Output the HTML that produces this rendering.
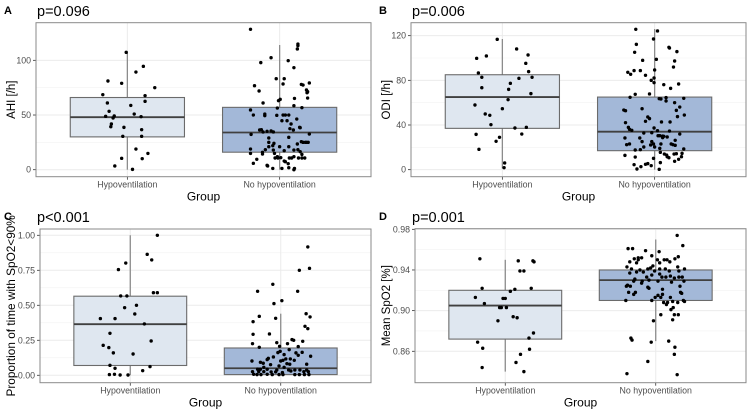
<!DOCTYPE html>
<html><head><meta charset="utf-8"><style>
body{margin:0;background:#fff}
svg{display:block;font-family:"Liberation Sans",Arial,sans-serif}
</style></head><body>
<svg id="fig" width="750" height="413" viewBox="0 0 750 413"></svg>
<script>
const categories=["Hypoventilation","No hypoventilation"];
const pLabels=["p=0.096","p=0.006","p<0.001","p=0.001"];
const panelLetters=["A","B","C","D"];
const yTitles=["AHI [/h]","ODI [/h]","Proportion of time with SpO2<90%","Mean SpO2 [%]"];
const aTicks=[0,50,100], aTickLabels=["0","50","100"];
const bTicks=[0,40,80,120], bTickLabels=["0","40","80","120"];
const cTicks=[0,0.25,0.5,0.75,1], cTickLabels=["0.00","0.25","0.50","0.75","1.00"];
const dTicks=[0.86,0.90,0.94,0.98], dTickLabels=["0.86","0.90","0.94","0.98"];
// box stats: [lowWhisker, Q1, median, Q3, highWhisker]
const aBoxHypo=[0,30,48,66,107], aBoxNo=[0,16,34,57,114];
const bBoxHypo=[1,37,65,85,117], bBoxNo=[0,17,34,65,126];
const cBoxHypo=[0,0.07,0.365,0.565,1.0], cBoxNo=[0,0.005,0.05,0.195,0.44];
const dBoxHypo=[0.840,0.872,0.905,0.920,0.950], dBoxNo=[0.870,0.910,0.930,0.940,0.970];
// points: values and jitter (fraction of half box width)
const aHypoVal=[107.3,81.1,79,94.5,89.3,75,68.6,61,67.7,62.5,58.8,53.4,48.8,49.1,47.3,50.9,48.5,41.8,39.3,38.7,30.5,36.6,30.5,18.9,14.9,10.4,10.1,3.4,0.3];
const aHypoJit=[-.02,-.34,-.10,.28,.15,.48,-.43,-.35,.31,.31,.06,-.32,-.38,-.23,-.25,.12,.24,-.28,-.29,-.06,-.08,.25,.25,.15,.36,-.10,.26,-.22,.09];
const aNoVal=[128.4,97.9,102.4,99.7,114.9,113.4,110.4,93.3,83.2,83.2,76.8,72,78.4,78,77.4,79.3,72.9,71.3,70.4,65.5,64.3,63.1,65.2,58.5,61,56.4,54.6,50,49.4,50.9,49.7,50,50,50,56.7,44.8,44.8,46.3,41.8,38.7,38.4,36.6,35.1,35.4,32.3,36.3,34.5,34.5,37.5,36.3,32.6,29,29.6,25,24.1,22,25.6,25,25,25,25,23.5,21,21,21,18.3,18.9,18,17.4,18,18.3,14.9,15.9,14.3,16.5,14,14.9,11.9,10.7,10.7,11,10.7,10.7,10.7,10.7,10.7,11.9,9.5,7.9,7.3,5.5,5.8,4,3.4,1.2,1.2,0,1.2,1.8];
const aNoJit=[-.51,-.33,-.15,.15,.32,.32,.31,.25,-.06,.08,-.44,-.36,.06,.38,.41,.52,.47,.49,.48,.49,.01,-.02,.26,.25,-.29,-.04,-.51,-.46,-.26,-.26,-.05,.06,.10,.16,.39,.13,.04,.30,.20,.35,.36,-.32,-.22,-.15,-.50,-.35,-.29,-.11,.18,.24,.52,-.19,.16,-.19,-.10,-.12,.38,.41,.45,.47,.50,.31,0,-.19,.16,-.25,-.51,-.11,.08,.25,.32,-.51,-.30,-.30,.36,.39,-.09,-.04,-.03,-.08,.02,.17,.21,.33,.39,.44,.25,-.40,.08,.10,.15,-.46,-.22,-.21,.04,.26,.25,-.12,.16];
const bHypoVal=[116.7,99.7,101.8,108.1,102.7,95.2,86.6,82.7,87.8,82.7,81.8,77.3,73.4,71.9,68.1,62.7,57.9,54.6,49.9,48.7,40.3,37.3,37.9,31.6,31.9,29,25.4,18.2,6,1.8];
const bHypoJit=[-.09,-.45,-.28,.25,.45,.41,-.42,-.36,.46,.52,.29,.14,-.36,.11,.50,.10,-.48,0,-.30,-.22,-.20,.22,.42,-.46,.34,-.05,-.11,-.41,.04,.03];
const bNoVal=[125.7,124.2,112.2,117,105.1,109.6,108.9,105.7,98.8,97.9,97.3,91.9,89.3,88.7,88.7,87.2,85.4,84.5,80,82.1,77.9,76.7,76.1,67.8,67.5,72.8,64.8,63.6,63.3,64.5,61.5,63.9,60,56.1,53.1,48.9,47.5,53.4,52.8,54.6,47.2,45.7,43.3,42.7,42.7,42.1,37.9,36.1,35.2,37.3,33.1,34.9,34.6,31.9,32.8,28.4,30.4,30.4,30.1,29.9,29.3,28.4,25.1,28.7,25.1,23,22.1,23,26.3,23,22.4,21.8,22.4,23,20.3,20.3,19.1,18.5,17.9,17.6,15.5,14,13.1,11.6,10.7,14,14.3,14.6,11.6,9.3,7.5,12.8,11.3,6.3,5.4,4.8,4.5,2.7,0.6,3.6,0.3,10.1];
const bNoJit=[-.33,.05,-.32,-.02,-.35,.25,.26,.39,.03,-.21,.35,.33,0,-.36,-.25,-.47,-.42,-.16,-.06,-.01,-.01,.42,.16,-.09,-.34,.28,-.43,.08,.11,.20,.20,.51,.35,.44,.38,.52,.40,-.54,-.51,-.22,-.12,-.09,-.16,.12,.27,-.51,-.46,-.44,-.40,-.01,-.05,.05,.26,.44,-.19,-.26,.06,.09,.14,.16,.22,-.52,-.22,.14,-.05,-.02,-.07,.11,.36,.29,.32,.36,-.49,-.44,-.19,0,.09,.51,-.25,-.34,.10,.17,.21,.22,.25,.34,.38,.48,.47,.42,.35,-.52,-.34,.10,-.12,-.16,-.36,-.24,-.31,-.06,.08,-.02];
const cHypoVal=[1,.864,.824,.802,.755,.567,.567,.59,.59,.5,.483,.438,.405,.405,.367,.3,.245,.214,.198,.16,.152,.071,.05,.062,.033,.005,.007,.002,.002];
const cHypoJit=[.48,.30,.38,-.08,-.21,-.17,-.06,.41,.48,.11,-.10,.08,-.53,-.27,.25,-.36,.37,-.48,-.38,-.30,.05,-.36,-.27,.35,.22,-.37,-.28,-.18,-.04];
const cNoVal=[.917,.764,.75,.65,.6,.6,.533,.512,.44,.417,.421,.407,.383,.35,.333,.295,.293,.255,.25,.243,.233,.226,.226,.2,.183,.205,.207,.171,.162,.16,.164,.136,.143,.131,.148,.121,.112,.117,.107,.102,.107,.117,.102,.093,.086,.083,.079,.079,.076,.067,.057,.057,.043,.043,.043,.038,.038,.038,.038,.038,.026,.026,.026,.024,.024,.019,.031,.026,.026,.007,.005,.005,.007,.005,.005,.005,.005,.005,.005,.005];
const cNoJit=[.48,.51,.33,-.14,-.41,.30,.02,-.12,.45,.52,-.38,-.09,-.49,.43,.48,-.20,-.49,.20,.23,.39,-.07,.12,-.50,-.38,.15,.31,-.02,-.01,-.05,.27,.38,.53,.31,-.13,.06,-.22,-.24,.17,.24,0,.04,.09,-.51,-.36,-.31,.11,.16,.46,-.18,-.03,-.30,.06,-.41,-.36,-.24,-.07,.14,.25,.34,.46,-.50,-.39,-.30,-.17,-.09,.03,.18,.41,.49,-.48,-.42,-.35,-.24,-.15,-.03,.04,.25,.33,.42,.50];
const dHypoVal=[.951,.949,.949,.948,.939,.939,.922,.921,.922,.919,.913,.912,.912,.907,.903,.903,.903,.894,.893,.890,.878,.873,.869,.863,.862,.857,.849,.844,.840];
const dHypoJit=[-.45,.23,.49,.51,.26,.33,-.41,.17,.46,.09,-.53,-.04,0,-.37,-.10,-.07,.02,.14,.21,-.13,.50,.42,-.49,-.40,.43,.27,.19,-.41,.33];
const dNoVal=[.974,.964,.961,.961,.959,.958,.954,.952,.952,.951,.953,.951,.95,.95,.95,.95,.947,.947,.948,.948,.943,.944,.942,.943,.941,.941,.939,.941,.941,.939,.941,.94,.938,.938,.939,.937,.936,.935,.933,.933,.933,.934,.932,.933,.933,.931,.929,.93,.929,.928,.929,.929,.927,.925,.924,.923,.924,.924,.922,.921,.918,.918,.916,.918,.917,.916,.915,.913,.913,.913,.91,.909,.908,.908,.909,.908,.91,.91,.906,.903,.901,.896,.896,.896,.89,.891,.873,.871,.869,.87,.864,.857,.85,.838,.837];
const dNoJit=[.38,.48,-.49,-.41,-.18,.06,-.07,-.25,-.31,-.38,.40,.34,.20,.15,.03,-.31,.07,-.34,-.46,.25,.39,-.05,-.09,-.51,-.43,-.14,-.02,.07,.17,.24,.51,-.28,-.22,-.34,.41,-.46,.07,-.07,-.16,.11,.18,.26,.33,.41,.47,-.37,-.24,-.12,.04,.28,.50,-.39,-.25,-.50,-.45,-.14,.43,-.52,-.12,.12,-.48,-.36,-.39,.44,.46,.12,.04,.26,-.01,.09,.49,.51,.14,.21,.30,.39,-.53,-.07,.19,.31,.27,.40,.33,.09,-.04,.30,-.44,-.42,-.08,.23,.34,.33,-.14,-.51,.38];

const NS="http://www.w3.org/2000/svg";
const svg=document.getElementById("fig");
function mk(tag,attrs,parent,text){const e=document.createElementNS(NS,tag);for(const k in attrs)e.setAttribute(k,attrs[k]);if(text!==undefined)e.textContent=text;(parent||svg).appendChild(e);return e;}

const panels=[
 {key:"a",x0:36,x1:371,y0:22.7,y1:176.7,d0:-6.4,d1:134.4,ticks:aTicks,labels:aTickLabels,boxes:[aBoxHypo,aBoxNo],vals:[aHypoVal,aNoVal],jit:[aHypoJit,aNoJit],ox:0,oy:0},
 {key:"b",x0:411,x1:746,y0:22.7,y1:176.7,d0:-6.3,d1:131.6,ticks:bTicks,labels:bTickLabels,boxes:[bBoxHypo,bBoxNo],vals:[bHypoVal,bNoVal],jit:[bHypoJit,bNoJit],ox:375,oy:0},
 {key:"c",x0:40,x1:371,y0:229,y1:382.7,d0:-0.053,d1:1.045,ticks:cTicks,labels:cTickLabels,boxes:[cBoxHypo,cBoxNo],vals:[cHypoVal,cNoVal],jit:[cHypoJit,cNoJit],ox:0,oy:206},
 {key:"d",x0:415,x1:746,y0:228.7,y1:382.7,d0:0.8291,d1:0.9806,ticks:dTicks,labels:dTickLabels,boxes:[dBoxHypo,dBoxNo],vals:[dHypoVal,dNoVal],jit:[dHypoJit,dNoJit],ox:375,oy:206}
];
const fills=["#dfe7f0","#a3b8d8"];

panels.forEach((p,pi)=>{
 const g=mk("g",{});
 
 
 const yS=v=>p.y1-(v-p.d0)/(p.d1-p.d0)*(p.y1-p.y0);
 const W=p.x1-p.x0;
 const xS=i=>p.x0+W*(0.6+i)/2.2;
 const bw=W*0.75/2.2, hw=bw/2;
 for(let i=0;i<p.ticks.length-1;i++){
  const m=(p.ticks[i]+p.ticks[i+1])/2;
  mk("line",{x1:p.x0,x2:p.x1,y1:yS(m),y2:yS(m),stroke:"#f2f2f2","stroke-width":0.6},g);
 }
 p.ticks.forEach((t,i)=>{
  const y=yS(t);
  const gl=mk("line",{x1:p.x0,x2:p.x1,y1:y,y2:y,stroke:"#ebebeb","stroke-width":1},g);
  
  
  mk("line",{x1:p.x0-3,x2:p.x0,y1:y,y2:y,stroke:"#333","stroke-width":0.8},g);
  const tl=mk("text",{x:p.x0-5,y:y+3,"text-anchor":"end","font-size":8.8,fill:"#4d4d4d"},g,p.labels[i]);
  
  
 });
 categories.forEach((c,i)=>{
  mk("line",{x1:xS(i),x2:xS(i),y1:p.y0,y2:p.y1,stroke:"#ebebeb","stroke-width":1},g);
 });
 categories.forEach((c,i)=>{
  const b=p.boxes[i], cx=xS(i);
  const wh=mk("line",{x1:cx,x2:cx,y1:yS(b[0]),y2:yS(b[4]),stroke:"#8c8c8c","stroke-width":1.3},g);
  
  
  const r=mk("rect",{x:cx-hw,y:yS(b[3]),width:bw,height:yS(b[1])-yS(b[3]),fill:fills[i],stroke:"#6b6b6b","stroke-width":1.1},g);
  
  
  const md=mk("line",{x1:cx-hw,x2:cx+hw,y1:yS(b[2]),y2:yS(b[2]),stroke:"#404040","stroke-width":1.8},g);
  
  
  mk("line",{x1:cx,x2:cx,y1:p.y1,y2:p.y1+3,stroke:"#333","stroke-width":0.8},g);
  const cl=mk("text",{x:cx,y:p.y1+11,"text-anchor":"middle","font-size":8.8,fill:"#4d4d4d"},g,c);
  
  
 });
 categories.forEach((c,i)=>{
  const cx=xS(i);
  p.vals[i].forEach((v,k)=>{
   const pt=mk("circle",{cx:cx+p.jit[i][k]*hw,cy:yS(v),r:1.7,fill:"#000"},g);
   
   
  });
 });
 const fr=mk("rect",{x:p.x0,y:p.y0,width:W,height:p.y1-p.y0,fill:"none",stroke:"#8a8a8a","stroke-width":1},g);
 
 
 const xt=mk("text",{x:(p.x0+p.x1)/2,y:p.y1+24,"text-anchor":"middle","font-size":12,fill:"#000"},g,"Group");
 
 
 const ycy=(p.y0+p.y1)/2, ycx=p.ox+12;
 const yt=mk("text",{x:ycx,y:ycy,"text-anchor":"middle","font-size":pi===2?11.8:11.5,fill:"#000",transform:`rotate(-90 ${ycx} ${ycy}) translate(0 3)`},g,yTitles[pi]);
 
 
 const lt=mk("text",{x:p.ox+4,y:p.oy+14,"font-size":11,"font-weight":"bold",fill:"#000"},g,panelLetters[pi]);
 
 
 const pv=mk("text",{x:p.ox+37,y:p.oy+16,"font-size":14.5,fill:"#000"},g,pLabels[pi]);
 
 
});
</script>
</body></html>
